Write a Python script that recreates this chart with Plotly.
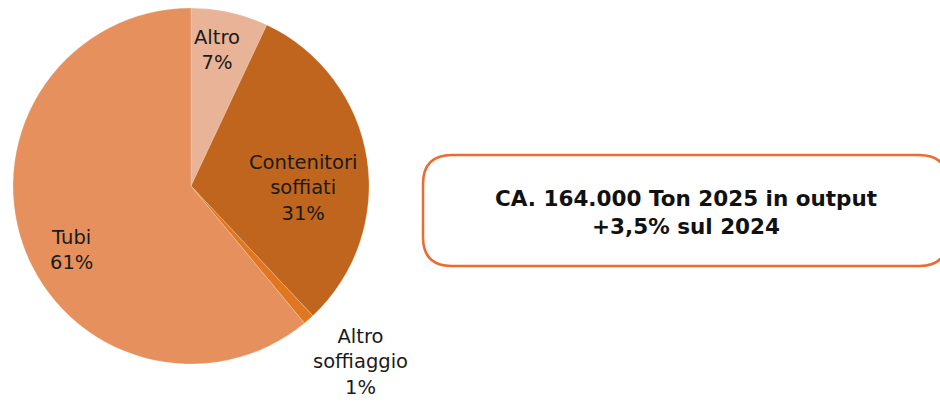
import plotly.graph_objects as go

W, H = 940, 402

categories = ["Altro", "Contenitori soffiati", "Altro soffiaggio", "Tubi"]
values = [7, 31, 1, 61]
label_lines = [["Altro"], ["Contenitori", "soffiati"], ["Altro", "soffiaggio"], ["Tubi"]]
colors = ["#e8b397", "#c0651d", "#e0761f", "#e6915d"]

headline = "CA. 164.000 Ton 2025 in output"
subline = "+3,5% sul 2024"

# pie geometry in pixels
cx, cy, r = 191, 186, 178

fig = go.Figure()
fig.add_trace(go.Pie(
    labels=categories,
    values=values,
    sort=False,
    direction="clockwise",
    rotation=0,
    marker=dict(colors=colors, line=dict(color="rgba(255,255,255,0.4)", width=0.5)),
    textinfo="none",
    hoverinfo="label+percent",
    showlegend=False,
    domain=dict(x=[(cx - r) / W, (cx + r) / W], y=[1 - (cy + r) / H, 1 - (cy - r) / H]),
))

# label anchor positions (pixel centers)
label_pos = [(217, 50), (303, 188), (360, 362), (71, 250)]
for lines, v, (px, py) in zip(label_lines, values, label_pos):
    txt = "<br>".join(lines + [f"{v}%"])
    fig.add_annotation(
        x=px / W, y=1 - py / H, xref="paper", yref="paper",
        text=txt, showarrow=False, align="center",
        xanchor="center", yanchor="middle",
        font=dict(family="'DejaVu Sans', sans-serif", size=19.5, color="#1a1a1a"),
    )

# rounded box
x0, x1, y0, y1, rr = 423, 948, 155, 266, 29
def px2(x, y):
    return f"{x / W:.5f},{1 - y / H:.5f}"
path = (
    f"M {px2(x0 + rr, y0)} L {px2(x1 - rr, y0)} Q {px2(x1, y0)} {px2(x1, y0 + rr)} "
    f"L {px2(x1, y1 - rr)} Q {px2(x1, y1)} {px2(x1 - rr, y1)} "
    f"L {px2(x0 + rr, y1)} Q {px2(x0, y1)} {px2(x0, y1 - rr)} "
    f"L {px2(x0, y0 + rr)} Q {px2(x0, y0)} {px2(x0 + rr, y0)} Z"
)
fig.add_shape(type="path", path=path, xref="paper", yref="paper",
              line=dict(color="#ee6b30", width=2.5), fillcolor="rgba(255,255,255,0)")

fig.add_annotation(
    x=686 / W, y=1 - 212 / H, xref="paper", yref="paper",
    text=f"<b>{headline}</b><br><b>{subline}</b>", showarrow=False, align="center",
    xanchor="center", yanchor="middle",
    font=dict(family="'DejaVu Sans', sans-serif", size=21.5, color="#111111"),
)

fig.update_layout(
    width=W, height=H,
    margin=dict(l=0, r=0, t=0, b=0),
    paper_bgcolor="white", plot_bgcolor="white",
)

fig.write_html(
    "out.html",
    config={"displayModeBar": False},
    post_script="document.body.style.margin='0';document.body.style.overflow='hidden';",
)
